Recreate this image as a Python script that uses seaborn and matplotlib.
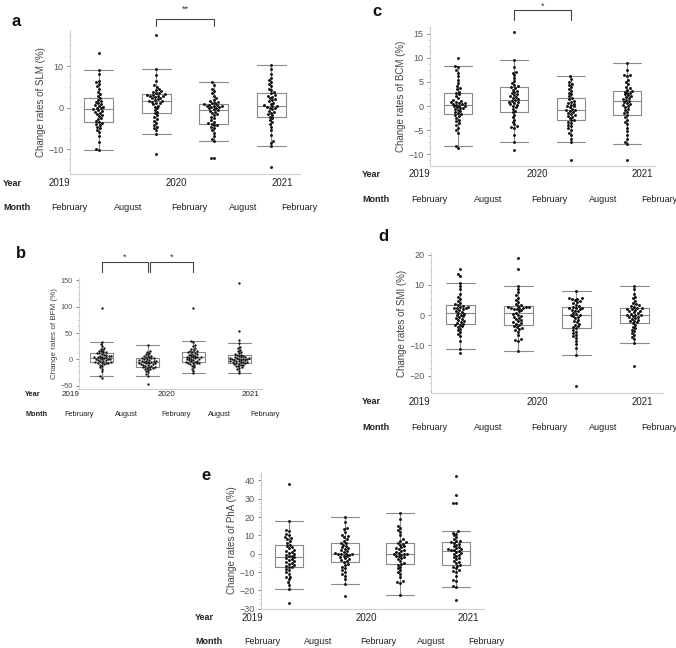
import numpy as np
import pandas as pd
import matplotlib
matplotlib.use("Agg")
import matplotlib.pyplot as plt
import seaborn as sns
from matplotlib.ticker import MultipleLocator, AutoMinorLocator

sns.set_style("white")
plt.rcParams["font.family"] = ["Liberation Sans", "DejaVu Sans"]

# ---------------- data ----------------
periods = ["Feb-Aug 2019", "Aug 2019-Feb 2020", "Feb-Aug 2020", "Aug 2020-Feb 2021"]
year_labels = ["2019", "2020", "2021"]
month_labels = ["February", "August", "February", "August", "February"]

# (a) SLM
slm_1 = [-10.2, -10.0, -8.3, -6.8, -5.9, -5.3, -5.0, -4.6, -4.3, -4.0, -3.8,
         -3.5, -3.2, -2.8, -2.5, -2.1, -1.8, -1.5, -1.2, -1.0, -0.8, -0.6,
         -0.4, -0.2, 0.0, 0.2, 0.4, 0.6, 0.9, 1.1, 1.4, 1.6, 1.9,
         2.3, 2.7, 3.2, 3.8, 4.6, 5.2, 5.8, 6.2, 6.5, 8.0, 9.1, 13.1]
slm_2 = [-6.3, -5.5, -5.0, -4.6, -4.2, -3.7, -3.2, -2.8, -2.3, -1.9, -1.4,
         -1.0, -0.6, -0.2, 0.2, 0.5, 0.8, 1.0, 1.2, 1.4, 1.5, 1.6,
         1.8, 2.0, 2.2, 2.4, 2.5, 2.7, 2.8, 2.9, 3.0, 3.1, 3.2,
         3.4, 3.6, 3.8, 4.0, 4.3, 4.6, 5.0, 5.5, 6.5, 7.8, 9.4, -11.2, 17.6]
slm_3 = [-8.1, -7.6, -6.8, -6.0, -5.5, -5.0, -4.6, -4.3, -4.1, -3.9, -3.8,
         -3.4, -3.0, -2.6, -2.2, -1.9, -1.6, -1.3, -1.0, -0.8, -0.6, -0.4,
         -0.2, 0.0, 0.1, 0.2, 0.3, 0.4, 0.5, 0.6, 0.7, 0.8, 1.0,
         1.2, 1.4, 1.6, 1.9, 2.3, 2.8, 3.4, 4.0, 4.6, 5.5, 6.1, -12.2, -12.2]
slm_4 = [-9.2, -8.5, -8.0, -6.5, -5.5, -4.6, -4.0, -3.5, -3.0, -2.6, -2.2,
         -1.9, -1.6, -1.3, -1.0, -0.7, -0.4, -0.2, 0.0, 0.1, 0.3, 0.4,
         0.6, 0.9, 1.2, 1.5, 1.8, 2.0, 2.3, 2.6, 2.9, 3.1, 3.4,
         3.8, 4.2, 4.6, 5.1, 5.6, 6.2, 6.6, 7.2, 8.0, 9.3, 10.2, -14.3]

# (b) BFM
bfm_1 = [-22.8, -18, -15, -12, -10, -9, -8, -7.5, -7, -6.5, -5.7,
         -5, -4, -3, -2, -1, 0, 0.5, 1, 1.5, 2, 3,
         3.5, 4, 4.5, 5, 5.5, 6, 7, 8, 9, 10, 11.4,
         12, 13, 14, 15, 16, 18, 20, 22, 25, 29, 32.9, 97, -32, -35]
bfm_2 = [-28.5, -25, -22, -20, -19, -18, -17, -16, -15.5, -15, -14.1,
         -13, -12, -11, -10, -9.5, -9, -8, -7.5, -7, -6.5, -5.7,
         -5, -4.5, -4, -3.5, -3, -2.5, -2, -1, 0, 1, 1.9,
         2.5, 3, 4, 5, 6, 7, 8, 10, 12, 14, 15.8, 26.5, -31, -47]
bfm_3 = [-26.6, -22, -18, -15, -12, -10, -9, -8, -7.5, -7, -6.5,
         -5.5, -4.5, -3.5, -2.5, -1.5, -0.5, 0, 0.5, 1, 2, 3,
         3.5, 4, 4.5, 5, 6, 7, 8, 9, 10, 11, 12,
         13, 14, 15, 16, 18, 20, 22, 25, 28, 32.9, 35, 98]
bfm_4 = [-26.6, -22, -19, -17, -15, -13, -12, -11, -10, -9, -8.3,
         -7.5, -7, -6, -5.5, -5, -4.5, -4, -3, -2.5, -2, -1.3,
         -0.5, 0, 0.5, 1, 1.5, 2, 2.5, 3, 3.5, 4, 5,
         6, 7, 8, 9, 10, 12, 14, 16, 18, 21, 24, 31, 37, 54, 146]

# (c) BCM
bcm_1 = [-5.5, -5.0, -4.5, -4.0, -3.6, -3.2, -2.8, -2.4, -2.1, -1.9, -1.7,
         -1.5, -1.3, -1.1, -0.9, -0.7, -0.5, -0.4, -0.3, -0.1, 0.0, 0.1,
         0.3, 0.4, 0.5, 0.6, 0.7, 0.8, 0.9, 1.0, 1.2, 1.6, 2.1,
         2.4, 2.7, 3.0, 3.5, 3.8, 4.2, 4.8, 5.5, 6.2, 6.9, 7.4, 8.0, 8.3, 10.0, -8.2, -8.7]
bcm_2 = [-7.5, -6.0, -4.5, -4.4, -4.2, -3.8, -3.3, -2.8, -2.3, -1.8, -1.3,
         -1.0, -0.6, -0.3, 0.0, 0.2, 0.4, 0.6, 0.8, 0.9, 1.0, 1.2,
         1.4, 1.6, 1.8, 2.0, 2.3, 2.5, 2.7, 2.9, 3.1, 3.4, 3.7,
         3.9, 4.1, 4.4, 4.8, 5.2, 5.8, 6.4, 6.9, 7.0, 8.2, 9.5, 15.3, -9.1]
bcm_3 = [-7.5, -6.8, -6.0, -5.5, -5.0, -4.6, -4.2, -3.9, -3.6, -3.3, -3.0,
         -2.8, -2.5, -2.2, -2.0, -1.8, -1.6, -1.4, -1.2, -1.0, -0.9, -0.8,
         -0.6, -0.3, -0.1, 0.1, 0.3, 0.5, 0.7, 0.9, 1.1, 1.4, 1.7,
         2.0, 2.4, 2.8, 3.2, 3.6, 4.0, 4.3, 4.6, 5.0, 5.7, 6.3, -11.2]
bcm_4 = [-7.9, -7.5, -6.8, -6.0, -5.2, -4.5, -3.8, -3.3, -2.8, -2.3, -1.8,
         -1.5, -1.2, -0.9, -0.6, -0.3, 0.0, 0.2, 0.4, 0.6, 0.8, 1.0,
         1.2, 1.4, 1.6, 1.8, 2.0, 2.2, 2.4, 2.6, 2.8, 3.0, 3.1,
         3.4, 3.7, 4.0, 4.5, 5.0, 5.5, 6.2, 6.4, 6.5, 7.5, 8.9, -11.2]

# (d) SMI
smi_1 = [-11.2, -8.5, -7.0, -6.2, -5.5, -5.0, -4.5, -4.0, -3.7, -3.4, -3.1,
         -2.8, -2.5, -2.2, -1.9, -1.6, -1.3, -1.0, -0.7, -0.4, -0.1, 0.2,
         0.5, 0.8, 1.1, 1.4, 1.7, 2.0, 2.2, 2.4, 2.5, 2.6, 2.7,
         3.0, 3.3, 3.6, 4.0, 4.5, 5.2, 6.0, 7.0, 8.5, 9.5, 10.5, 13.0, 13.6, 15.1, -12.4]
smi_2 = [-11.9, -8.5, -8.3, -8.0, -6.5, -5.5, -5.0, -4.6, -4.3, -4.0, -3.7,
         -3.3, -3.0, -2.7, -2.4, -2.0, -1.6, -1.2, -0.8, -0.5, -0.2, 0.1,
         0.4, 0.8, 1.2, 1.6, 1.9, 2.1, 2.3, 2.4, 2.5, 2.6, 2.6,
         2.8, 3.1, 3.4, 3.8, 4.3, 5.0, 5.8, 6.5, 7.5, 8.5, 9.6, 15.3, 18.8]
smi_3 = [-13.3, -11.0, -9.5, -8.5, -7.5, -7.0, -6.5, -6.0, -5.5, -5.0, -4.4,
         -4.0, -3.6, -3.2, -2.8, -2.4, -2.0, -1.5, -1.0, -0.5, -0.2, 0.0,
         0.2, 0.5, 0.8, 1.2, 1.5, 1.8, 2.0, 2.2, 2.4, 2.5, 2.7,
         3.0, 3.5, 4.0, 4.4, 4.8, 5.0, 5.2, 5.4, 5.6, 5.8, 8.0, -23.5]
smi_4 = [-9.3, -8.0, -7.3, -6.5, -5.8, -5.2, -4.8, -4.3, -3.8, -3.2, -2.7,
         -2.4, -2.1, -1.8, -1.5, -1.2, -0.9, -0.7, -0.5, -0.3, -0.1, 0.0,
         0.2, 0.5, 0.8, 1.0, 1.2, 1.5, 1.8, 1.9, 2.0, 2.2, 2.5,
         2.8, 3.0, 3.3, 3.6, 4.0, 4.8, 5.5, 6.0, 7.0, 8.5, 9.6, -16.7]

# (e) PhA
pha_1 = [-19.5, -17, -15.5, -14, -13, -12.5, -11, -10, -9, -8.2, -7.4,
         -7, -6.5, -6, -5.5, -5, -4.5, -4, -3.5, -3, -2.5, -2,
         -1.5, -1, -0.5, 0, 0.5, 1, 1.5, 2, 3, 3.5, 4.2,
         5, 6, 7, 8, 8.5, 9, 10, 11, 12.5, 13, 17.7, 38.1, -26.8]
pha_2 = [-16.7, -14, -12, -11, -10, -9, -8, -7, -6, -5.5, -4.5,
         -4, -3.5, -3, -2.5, -2, -1.5, -1, -0.5, 0, 0, 0,
         0, 0.5, 1, 1.5, 2, 2.5, 3, 3.5, 4, 5, 5.7,
         6, 7, 8, 9, 9.5, 10, 12, 13.5, 14, 17.5, 20, -23]
pha_3 = [-22.6, -16, -15.5, -15, -13, -11, -10, -9, -8, -7, -6.3,
         -5.5, -5, -4, -3, -2.5, -2, -1.5, -1, -0.5, 0, 0,
         0, 0.5, 1, 1.5, 2, 2.5, 3, 3.5, 4, 5, 5.5,
         6, 6.5, 7, 8, 10, 12, 13, 14, 15, 19, 22.1]
pha_4 = [-25.3, -18, -17.5, -15, -14.5, -12, -10, -9.5, -9, -8, -7.3,
         -6.5, -6, -5, -4.5, -4, -3, -2.5, -2, -1, -0.5, 0,
         0.5, 1, 1.5, 2, 2, 2.5, 2.5, 3, 3.5, 4, 4.9,
         5.5, 6, 6.5, 7, 7, 8, 9, 10, 11, 11.5, 12.2, 27.8, 27.8, 32.3, 42.2]

def long_df(groups):
    rows = []
    for p, vals in zip(periods, groups):
        rows += [(p, v) for v in vals]
    return pd.DataFrame(rows, columns=["period", "value"])

# ---------------- figure ----------------
W, H = 676, 648
fig = plt.figure(figsize=(W / 100, H / 100), dpi=100)

def fx(x):
    return x / W

def fy(y):
    return 1 - y / H

GREY = "#8a8a8a"
TXT = "#555555"

panels = [
    dict(letter="a", groups=[slm_1, slm_2, slm_3, slm_4], label="Change rates of SLM (%)",
         box=(70, 300, 30, 174), ylim=(-16, 18.7), major=10, fs=6.5, dot=2.1,
         letter_xy=(16, 22), year_y=183, month_y=208, head_x=3,
         year_x=[59, 176, 282], month_x=[69, 128, 189, 243, 299],
         sig=[(1, 2, 19.7, 21.4, 23.6, "**")]),
    dict(letter="c", groups=[bcm_1, bcm_2, bcm_3, bcm_4], label="Change rates of BCM (%)",
         box=(430, 655, 27, 166), ylim=(-12.45, 16.4), major=5, fs=6.5, dot=2.1,
         letter_xy=(377, 11), year_y=174, month_y=200, head_x=362,
         year_x=[419, 537, 642], month_x=[429, 488, 549, 603, 659],
         sig=[(1, 2, 17.8, 19.9, 20.7, "*")]),
    dict(letter="b", groups=[bfm_1, bfm_2, bfm_3, bfm_4], label="Change rates of BFM (%)",
         box=(79, 262, 278, 389), ylim=(-56.5, 154.6), major=50, fs=5.3, dot=1.7,
         letter_xy=(21, 253), year_y=394, month_y=415, head_x=25,
         year_x=[71, 166, 251], month_x=[79, 126, 176, 219, 265],
         sig=[(0, 1, 166, 185, 194, "*"), (1.05, 2, 166, 185, 194, "*")]),
    dict(letter="d", groups=[smi_1, smi_2, smi_3, smi_4], label="Change rates of SMI (%)",
         box=(431, 663, 253, 393), ylim=(-25.7, 20.5), major=10, fs=6.5, dot=2.1,
         letter_xy=(383, 236), year_y=402, month_y=427, head_x=362,
         year_x=[419, 537, 642], month_x=[429, 488, 549, 603, 659], sig=[]),
    dict(letter="e", groups=[pha_1, pha_2, pha_3, pha_4], label="Change rates of PhA (%)",
         box=(261, 484, 472, 609), ylim=(-30.2, 44.6), major=10, fs=6.5, dot=2.1,
         letter_xy=(206, 476), year_y=618, month_y=642, head_x=195,
         year_x=[252, 366, 468], month_x=[262, 318, 378, 431, 486], sig=[]),
]

for P in panels:
    l, r, t, b = P["box"]
    ax = fig.add_axes([fx(l), fy(b), (r - l) / W, (b - t) / H])
    df = long_df(P["groups"])
    sns.boxplot(data=df, x="period", y="value", order=periods, ax=ax,
                fill=False, color=GREY, linewidth=0.8, width=0.5,
                showfliers=False, capwidths=0.5)
    sns.swarmplot(data=df, x="period", y="value", order=periods, ax=ax,
                  color="#111111", size=P["dot"], linewidth=0, zorder=3)
    ax.set_xlim(-0.5, 3.5)
    ax.set_ylim(*P["ylim"])
    ax.set_xlabel("")
    ax.set_xticks([])
    ax.set_ylabel(P["label"], fontsize=P["fs"] + 0.5, color="#444444", labelpad=2)
    ax.yaxis.set_major_locator(MultipleLocator(P["major"]))
    ax.yaxis.set_minor_locator(AutoMinorLocator(4))
    ax.tick_params(axis="y", which="major", labelsize=P["fs"], colors=TXT,
                   length=2.5, width=0.5, pad=2, left=True)
    ax.tick_params(axis="y", which="minor", length=1.5, width=0.4, colors="#bbbbbb", left=True)
    for s in ["top", "right"]:
        ax.spines[s].set_visible(False)
    for s in ["left", "bottom"]:
        ax.spines[s].set_color("#cfcfcf")
        ax.spines[s].set_linewidth(0.8)
    ax.set_facecolor("none")

    for (x0, x1, ylow, yhigh, ystar, star) in P["sig"]:
        ax.plot([x0, x0, x1, x1], [ylow, yhigh, yhigh, ylow], color="#444444",
                lw=0.8, clip_on=False)
        ax.text((x0 + x1) / 2, ystar, star, ha="center", va="center",
                fontsize=6.5, color="#333333", clip_on=False)

    lx, ly = P["letter_xy"]
    fig.text(fx(lx), fy(ly), P["letter"], fontsize=12, fontweight="bold",
             ha="center", va="center", color="#111111")
    tfs = P["fs"]
    fig.text(fx(P["head_x"]), fy(P["year_y"]), "Year", fontsize=tfs,
             fontweight="bold", ha="left", va="center", color="#222222")
    fig.text(fx(P["head_x"]), fy(P["month_y"]), "Month", fontsize=tfs,
             fontweight="bold", ha="left", va="center", color="#222222")
    for xx, lab in zip(P["year_x"], year_labels):
        fig.text(fx(xx), fy(P["year_y"]), lab, fontsize=tfs + 0.5,
                 ha="center", va="center", color="#222222")
    for xx, lab in zip(P["month_x"], month_labels):
        fig.text(fx(xx), fy(P["month_y"]), lab, fontsize=tfs,
                 ha="center", va="center", color="#222222")

fig.savefig("out.png", dpi=100, facecolor="white")
